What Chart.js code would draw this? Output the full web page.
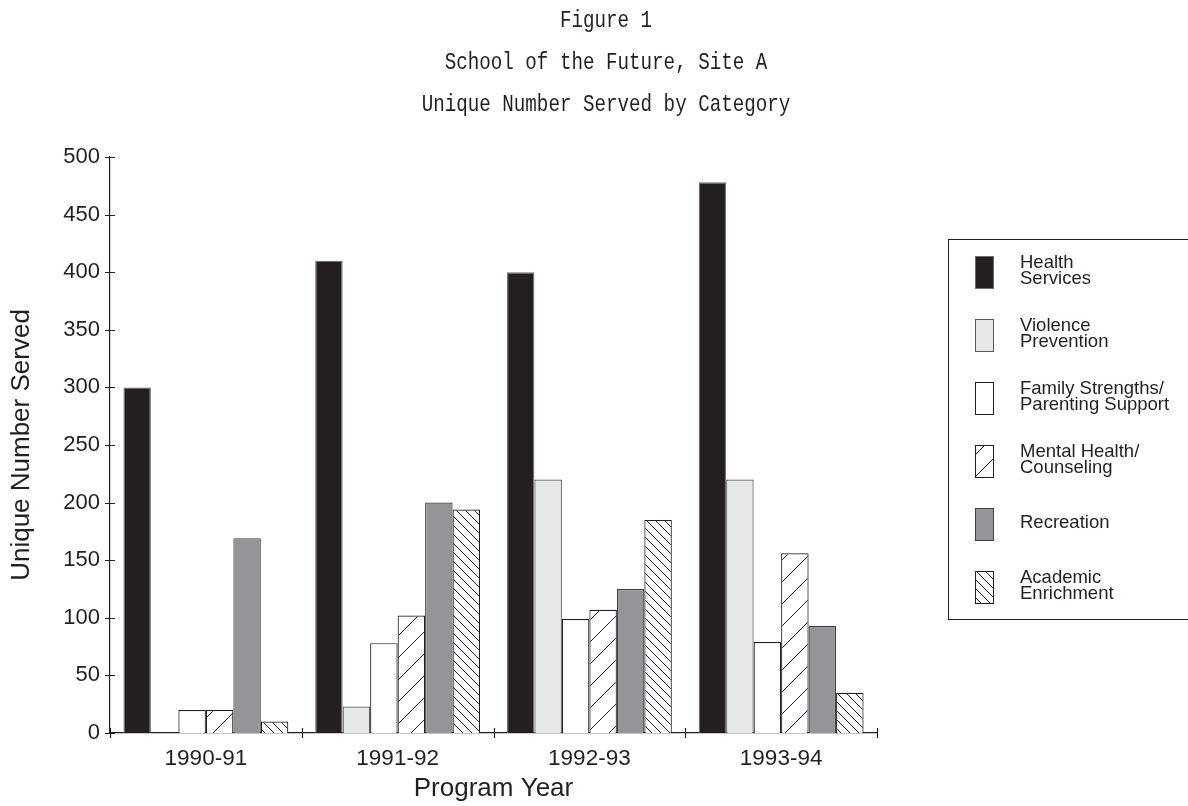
<!DOCTYPE html>
<html>
<head>
<meta charset="utf-8">
<script src="https://cdn.jsdelivr.net/npm/chart.js@4/dist/chart.umd.min.js"></script>
<style>
  html, body { margin: 0; padding: 0; background: #fff; }
  #wrap { width: 1188px; height: 806px; }
</style>
</head>
<body>
<div id="wrap"><canvas id="grafico" width="1188" height="806"></canvas></div>
<script>
// datos
var years = ['1990-91', '1991-92', '1992-93', '1993-94'];
var seriesNames = ['Health Services', 'Violence Prevention', 'Family Strengths/ Parenting Support',
  'Mental Health/ Counseling', 'Recreation', 'Academic Enrichment'];
var legendLines = [['Health', 'Services'], ['Violence', 'Prevention'], ['Family Strengths/', 'Parenting Support'],
  ['Mental Health/', 'Counseling'], ['Recreation'], ['Academic', 'Enrichment']];
var titleLines = ['Figure 1', 'School of the Future, Site A', 'Unique Number Served by Category'];
var healthServices = [300, 410, 400, 478];
var violencePrevention = [0, 23, 220, 220];
var familyStrengths = [20, 78, 99, 79];
var mentalHealth = [20, 102, 107, 156];
var recreation = [169, 200, 125, 93];
var academicEnrichment = [10, 194, 185, 35];
var yTicks = [0, 50, 100, 150, 200, 250, 300, 350, 400, 450, 500];

var ink = '#231f20';
var canvas = document.getElementById('grafico');
var ctx = canvas.getContext('2d');

// patron de rayas para las barras sombreadas
function rayado(dir, size) {
  var c = document.createElement('canvas');
  c.width = size; c.height = size;
  var x = c.getContext('2d');
  x.fillStyle = '#fff';
  x.fillRect(0, 0, size, size);
  x.strokeStyle = ink;
  x.lineWidth = 1;
  x.beginPath();
  if (dir === '/') {
    x.moveTo(0, size); x.lineTo(size, 0);
    x.moveTo(-2, 2); x.lineTo(2, -2);
    x.moveTo(size - 2, size + 2); x.lineTo(size + 2, size - 2);
  } else {
    x.moveTo(0, 0); x.lineTo(size, size);
    x.moveTo(size - 2, -2); x.lineTo(size + 2, 2);
    x.moveTo(-2, size - 2); x.lineTo(2, size + 2);
  }
  x.stroke();
  return ctx.createPattern(c, 'repeat');
}

var fills = [ink, '#e6e7e8', '#ffffff', rayado('/', 22), '#939598', rayado('\\', 9)];
var borders = ['#6d6e71', '#58595b', ink, ink, '#414042', ink];
var values = [healthServices, violencePrevention, familyStrengths, mentalHealth, recreation, academicEnrichment];

var datasets = values.map(function(v, i) {
  return {
    label: seriesNames[i],
    data: v,
    backgroundColor: fills[i],
    borderColor: borders[i],
    borderWidth: 1.2,
    borderSkipped: 'bottom',
    categoryPercentage: 0.86,
    barPercentage: 1.0
  };
});

// titulo centrado en toda la pagina, letra estrecha
var titulo = {
  id: 'titulo',
  afterDraw: function(chart) {
    var c = chart.ctx;
    c.save();
    c.fillStyle = ink;
    c.font = '24px "Liberation Mono", "Courier New", monospace';
    c.textAlign = 'center';
    c.textBaseline = 'middle';
    titleLines.forEach(function(t, i) {
      c.save();
      c.translate(606, 21 + i * 42);
      c.scale(0.8, 1);
      c.fillText(t, 0, 0);
      c.restore();
    });
    c.restore();
  }
};

// marcas de los ejes que cruzan la linea
var marcasEjes = {
  id: 'marcasEjes',
  afterDraw: function(chart) {
    var c = chart.ctx, xs = chart.scales.x, ys = chart.scales.y;
    c.save();
    c.strokeStyle = ink;
    c.lineWidth = 1.2;
    c.beginPath();
    yTicks.forEach(function(t) {
      var py = Math.round(ys.getPixelForValue(t)) + 0.5;
      c.moveTo(xs.left - 5, py); c.lineTo(xs.left + 5, py);
    });
    var w = (xs.right - xs.left) / years.length;
    for (var i = 0; i <= years.length; i++) {
      var px = Math.round(xs.left + i * w) + 0.5;
      c.moveTo(px, ys.bottom - 5); c.lineTo(px, ys.bottom + 5);
    }
    c.stroke();
    c.restore();
  }
};

// leyenda dibujada a mano en una caja
var leyenda = {
  id: 'leyenda',
  afterDraw: function(chart) {
    var c = chart.ctx, area = chart.chartArea;
    var bx = area.right + 71, by = 239, bh = 380;
    c.save();
    c.strokeStyle = ink;
    c.lineWidth = 1;
    c.strokeRect(bx + 0.5, by + 0.5, 400, bh);
    c.font = '18.5px "Liberation Sans", Arial, sans-serif';
    c.fillStyle = ink;
    c.textBaseline = 'middle';
    chart.data.datasets.forEach(function(ds, i) {
      var sy = by + 17 + i * 63;
      c.fillStyle = ds.backgroundColor;
      c.fillRect(bx + 27, sy, 18, 32);
      c.strokeStyle = ds.borderColor;
      c.strokeRect(bx + 27.5, sy + 0.5, 18, 32);
      c.fillStyle = ink;
      var lines = legendLines[i];
      var cy = sy + 15 - (lines.length - 1) * 8;
      lines.forEach(function(t, k) {
        c.fillText(t, bx + 72, cy + k * 16);
      });
    });
    c.restore();
  }
};

new Chart(ctx, {
  type: 'bar',
  data: { labels: years, datasets: datasets },
  options: {
    responsive: false,
    animation: false,
    layout: { padding: { left: 2, right: 311, top: 157, bottom: 0 } },
    plugins: {
      legend: { display: false },
      tooltip: { enabled: false },
      title: { display: false }
    },
    scales: {
      x: {
        grid: { display: false, drawTicks: false },
        border: { display: true, color: ink, width: 1.2 },
        ticks: { color: ink, padding: 12, font: { family: '"Liberation Sans", Arial, sans-serif', size: 22.5 } },
        title: {
          display: true, text: 'Program Year', color: ink,
          font: { family: '"Liberation Sans", Arial, sans-serif', size: 26, lineHeight: 1.1 },
          padding: { top: 0, bottom: 3 }
        },
        afterFit: function(s) { s.height = 73; }
      },
      y: {
        min: 0, max: 500,
        afterBuildTicks: function(s) { s.ticks = yTicks.map(function(v) { return { value: v }; }); },
        grid: { display: false, drawTicks: false },
        border: { display: true, color: ink, width: 1.2 },
        ticks: { color: ink, padding: 10, font: { family: '"Liberation Sans", Arial, sans-serif', size: 22 } },
        title: {
          display: true, text: 'Unique Number Served', color: ink,
          font: { family: '"Liberation Sans", Arial, sans-serif', size: 26, lineHeight: 1.2 },
          padding: { top: 4, bottom: 0 }
        },
        afterFit: function(s) { s.width = 108; }
      }
    }
  },
  plugins: [titulo, marcasEjes, leyenda]
});
</script>
</body>
</html>
